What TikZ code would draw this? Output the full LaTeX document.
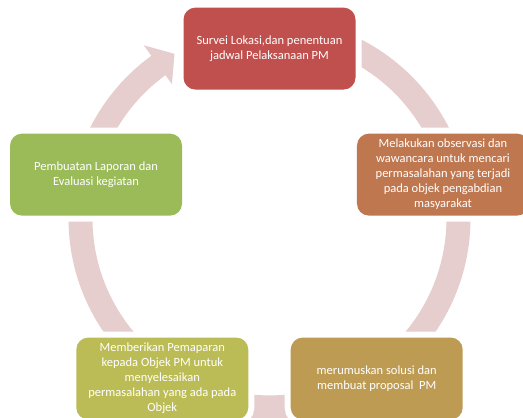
\documentclass[tikz,border=0pt]{standalone}
\usepackage{fontspec}
\setmainfont{Carlito}

\definecolor{ringpink}{HTML}{E6CDCE}
\definecolor{surveired}{HTML}{C0504D}
\definecolor{observorange}{HTML}{BF7750}
\definecolor{solusigold}{HTML}{BD9B53}
\definecolor{paparolive}{HTML}{BCBC56}
\definecolor{laporangreen}{HTML}{9BBB59}

\tikzset{
  stage/.style={rounded corners=12pt, minimum width=172pt, minimum height=82pt,
    inner sep=2pt, align=center, text=white,
    font=\fontsize{12.5}{15}\selectfont,
    preaction={draw=white, line width=12pt}},
}

\begin{document}
\begin{tikzpicture}[x=1pt,y=1pt]
  \useasboundingbox (0,0) rectangle (523,418);
  \clip (0,0) rectangle (523,418);
  % continuous ring with one arrow head
  \fill[ringpink, shift={(269.5,199.6)}]
    (90:201) arc[start angle=90, end angle=-234, radius=201]
    -- (126:214) -- (120:190) -- (126:166) -- (126:177)
    arc[start angle=-234, end angle=90, radius=177] -- cycle;
  % stages
  \coordinate (mid) at (269.5,187);
  \node[stage, fill=surveired] (survei) at ([shift={(90:182.4)}]mid)
    {Survei Lokasi,dan penentuan\\jadwal Pelaksanaan PM};
  \node[stage, fill=observorange] (observasi) at ([shift={(18:182.4)}]mid)
    {Melakukan observasi dan\\wawancara untuk mencari\\permasalahan yang terjadi\\pada objek pengabdian\\masyarakat};
  \node[stage, fill=solusigold] (solusi) at ([shift={(-54:182.4)}]mid)
    {merumuskan solusi dan\\membuat proposal\ \ PM};
  \node[stage, fill=paparolive] (pemaparan) at ([shift={(-126:182.4)}]mid)
    {Memberikan Pemaparan\\kepada Objek PM untuk\\menyelesaikan\\permasalahan yang ada pada\\Objek};
  \node[stage, fill=laporangreen] (laporan) at ([shift={(162:182.4)}]mid)
    {Pembuatan Laporan dan\\Evaluasi kegiatan};
\end{tikzpicture}
\end{document}
